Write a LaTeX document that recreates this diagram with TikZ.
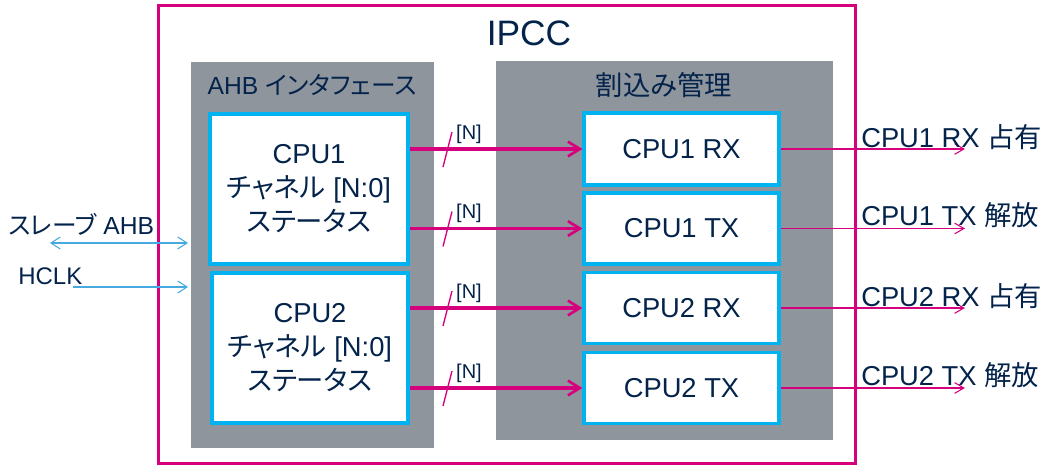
\documentclass[tikz,border=0pt]{standalone}
\usepackage{fontspec}
\setmainfont{Liberation Sans}
\newfontfamily\jp[RawFeature=+palt]{Noto Sans CJK JP}
\usetikzlibrary{arrows.meta}
\definecolor{mag}{RGB}{214,0,125}
\definecolor{pgray}{RGB}{142,149,156}
\definecolor{navy}{RGB}{3,35,75}
\definecolor{cyanb}{RGB}{0,178,240}
\definecolor{lblue}{RGB}{70,170,225}
\tikzset{
  lbtip/.tip={Straight Barb[length=7pt,width=9pt,line width=0.8pt]},
  txt/.style={text=navy, font=\fontsize{20.5}{25.5}\selectfont},
  panel/.style={fill=pgray, draw=none, inner sep=0pt},
  cbox/.style={draw=cyanb, fill=white, line width=2.3pt, inner sep=0pt, txt, align=center},
  busarrow/.style={draw=mag, line width=2.6pt, -{Straight Barb[length=9pt,width=11pt,line width=2pt]}},
  outarrow/.style={draw=mag, line width=0.8pt, -{Straight Barb[length=7pt,width=8pt,line width=0.8pt]}},
  slash/.style={draw=mag, line width=1pt},
  nlabel/.style={text=navy, font=\fontsize{15}{18}\selectfont, inner sep=0pt},
  inarrow/.style={draw=lblue, line width=0.8pt}
}
\begin{document}
\begin{tikzpicture}[x=0.75pt,y=-0.75pt]
\useasboundingbox (0,0) rectangle (1049,466);
% outer IPCC frame
\node[draw=mag, line width=2.25pt, minimum width=522.75pt, minimum height=342.75pt, inner sep=0pt] (ipcc) at (506.5,234.5) {};
\node[text=navy, font=\fontsize{26.5}{30}\selectfont, inner sep=0pt] (ipcctitle) at (529,33) {IPCC};
% panels
\node[panel, minimum width=182.25pt, minimum height=289.5pt] (lp) at (312.5,255) {};
\node[panel, minimum width=252.75pt, minimum height=284.25pt] (rp) at (664.5,250.5) {};
\node[text=navy, font=\fontsize{18.5}{22}\selectfont, inner sep=0pt] (lpt) at (312,85) {AHB {\jp インタフェース}};
\node[text=navy, font=\fontsize{20.5}{24}\selectfont, inner sep=0pt] (rpt) at (664,85) {\jp 割込み管理};
% channel status boxes
\node[cbox, minimum width=148.5pt, minimum height=112.5pt] (ch1) at (309,189) {CPU1\\{\jp チャネル} [N:0]\\{\jp ステータス}};
\node[cbox, minimum width=147pt, minimum height=112.5pt] (ch2) at (310,348) {CPU2\\{\jp チャネル} [N:0]\\{\jp ステータス}};
% interrupt boxes
\node[cbox, minimum width=146.25pt, minimum height=54pt] (rx1) at (681.5,149) {CPU1 RX};
\node[cbox, minimum width=146.25pt, minimum height=53.25pt] (tx1) at (681.5,228.5) {CPU1 TX};
\node[cbox, minimum width=146.25pt, minimum height=53.25pt] (rx2) at (681.5,308) {CPU2 RX};
\node[cbox, minimum width=146.25pt, minimum height=53.25pt] (tx2) at (681.5,388) {CPU2 TX};
% bus arrows
\draw[busarrow] (ch1.east |- rx1.west) -- (rx1.west);
\draw[busarrow] (ch1.east |- tx1.west) -- (tx1.west);
\draw[busarrow] (ch2.east |- rx2.west) -- (rx2.west);
\draw[busarrow] (ch2.east |- tx2.west) -- (tx2.west);
% bus width slashes and labels
\foreach \y/\n in {149/a,228.5/b,308/c,388/d}{
  \draw[slash] (443,\y+18) -- (452,\y-17);
  \node[nlabel] (nl\n) at (469,\y-15) {[N]};
}
% outputs
\coordinate (o1) at (965,149);
\coordinate (o2) at (965,228.5);
\coordinate (o3) at (965,308);
\coordinate (o4) at (965,388);
\draw[outarrow] (rx1.east) -- (o1);
\draw[outarrow] (tx1.east) -- (o2);
\draw[outarrow] (rx2.east) -- (o3);
\draw[outarrow] (tx2.east) -- (o4);
\node[txt, anchor=base west, inner sep=0pt] (t1) at (861,148) {CPU1 RX {\jp 占有}};
\node[txt, anchor=base west, inner sep=0pt] (t2) at (861,226) {CPU1 TX {\jp 解放}};
\node[txt, anchor=base west, inner sep=0pt] (t3) at (861,307) {CPU2 RX {\jp 占有}};
\node[txt, anchor=base west, inner sep=0pt] (t4) at (861,386) {CPU2 TX {\jp 解放}};
% left inputs
\node[text=navy, font=\fontsize{18.5}{22}\selectfont, anchor=base west, inner sep=0pt] (ahb) at (8,235) {{\jp スレーブ} AHB};
\node[text=navy, font=\fontsize{18}{22}\selectfont, anchor=base west, inner sep=0pt] (hclk) at (18,285) {HCLK};
\coordinate (a1) at (50,243);
\coordinate (a2) at (188,243);
\coordinate (h1) at (73,287);
\coordinate (h2) at (188,287);
\draw[inarrow, lbtip-lbtip] (a1) -- (a2);
\draw[inarrow, -lbtip] (h1) -- (h2);
\end{tikzpicture}
\end{document}
